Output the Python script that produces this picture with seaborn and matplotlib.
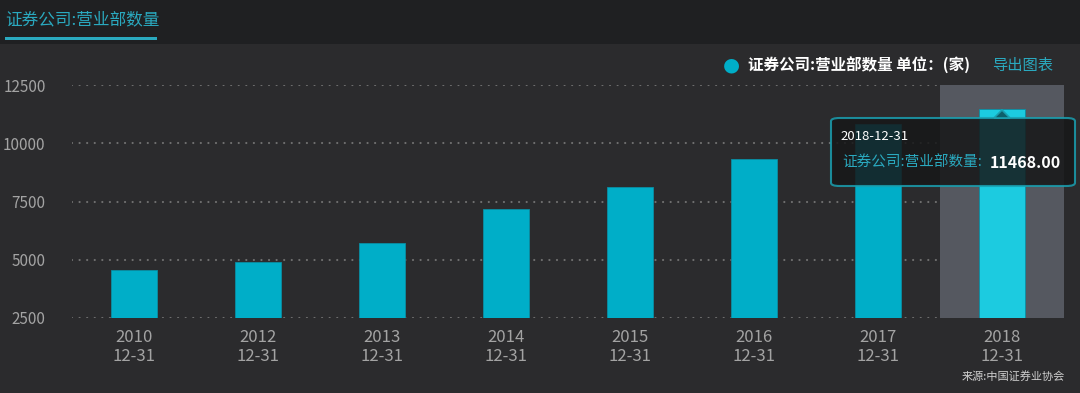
import matplotlib.pyplot as plt
import seaborn as sns
import pandas as pd
from matplotlib.patches import FancyBboxPatch, Rectangle, Polygon

years = ["2010", "2012", "2013", "2014", "2015", "2016", "2017", "2018"]
dates = ["12-31"] * 8
branches = [4560, 4900, 5720, 7160, 8140, 9340, 10820, 11468]
y_ticks = [2500, 5000, 7500, 10000, 12500]

BG = "#2b2b2d"
HEAD = "#1f2022"
BAR = "#00aec8"
BAR_HI = "#1ccbe0"
TEAL = "#2aa9bf"
GREY = "#a3a3a3"

sns.set_style("dark")
plt.rcParams["font.family"] = ["Noto Sans CJK SC", "DejaVu Sans"]

df = pd.DataFrame({"label": [f"{y}\n{d}" for y, d in zip(years, dates)],
                   "value": branches})

fig = plt.figure(figsize=(10.8, 3.93), dpi=100, facecolor=BG)
# header band
fig.patches.append(Rectangle((0, 1 - 44 / 393), 1, 44 / 393, transform=fig.transFigure,
                             facecolor=HEAD, edgecolor="none", zorder=0))
fig.text(5 / 1080, 1 - 20 / 393, "证券公司:营业部数量", color=TEAL, fontsize=12,
         va="center", ha="left")
fig.patches.append(Rectangle((5 / 1080, 1 - 40 / 393), 152 / 1080, 3 / 393,
                             transform=fig.transFigure, facecolor=TEAL,
                             edgecolor="none"))

ax = fig.add_axes([72 / 1080, 1 - 318 / 393, 992 / 1080, 233 / 393])
ax.set_facecolor(BG)

colors = [BAR] * (len(years) - 1) + [BAR_HI]
sns.barplot(data=df, x="label", y="value", hue="label", palette=colors,
            legend=False, width=0.37, saturation=1, edgecolor="#0a8ea3",
            linewidth=0.6, ax=ax, zorder=3)

# hover highlight on last category
ax.axvspan(len(years) - 1.5, len(years) - 0.5, color="#555860", zorder=2, lw=0)

ax.set_ylim(2500, 12500)
ax.set_xlim(-0.5, len(years) - 0.5)
ax.set_yticks(y_ticks)
ax.set_yticklabels([str(t) for t in y_ticks])
ax.set_xlabel("")
ax.set_ylabel("")
ax.grid(False)
for t in y_ticks:
    ax.axhline(t, color="#707070", lw=1.6, ls=(0, (0.01, 3.4)),
               dash_capstyle="round", zorder=1)
for s in ax.spines.values():
    s.set_visible(False)
ax.tick_params(axis="y", colors=GREY, labelsize=11, length=0, pad=19)
ax.tick_params(axis="x", colors=GREY, labelsize=12, length=0, pad=8)
for lbl in ax.get_yticklabels() + ax.get_xticklabels():
    lbl.set_color(GREY)
    lbl.set_linespacing(1.15)

# legend row
fig.text(731 / 1080, 1 - 65 / 393, "●", color=BAR, fontsize=14, ha="center",
         va="center", family=["DejaVu Sans"])
fig.text(748 / 1080, 1 - 65 / 393, "证券公司:营业部数量 单位：(家)", color="white",
         fontsize=11.2, fontweight="bold", ha="left", va="center")
fig.text(992 / 1080, 1 - 65 / 393, "导出图表", color=TEAL, fontsize=11,
         ha="left", va="center")

# tooltip
x0, y0, w, h = 831 / 1080, 1 - 186 / 393, 244 / 1080, 68 / 393
fig.patches.append(FancyBboxPatch((x0, y0), w, h, transform=fig.transFigure,
                                  boxstyle="round,pad=0,rounding_size=0.008",
                                  facecolor="#161718", alpha=0.85,
                                  edgecolor="#1a9fb0", lw=1.5, zorder=5))
fig.patches.append(Polygon([(994 / 1080, 1 - 118 / 393), (1002 / 1080, 1 - 110 / 393),
                            (1010 / 1080, 1 - 118 / 393)], closed=True,
                           transform=fig.transFigure, facecolor="#0e5f6b",
                           edgecolor="#1a9fb0", lw=1.2, zorder=5))
fig.text(840 / 1080, 1 - 137 / 393, f"{years[-1]}-{dates[-1]}", color="white",
         fontsize=9.5, ha="left", va="center", zorder=6)
fig.text(842 / 1080, 1 - 163 / 393, "证券公司:营业部数量:", color=TEAL,
         fontsize=10.5, ha="left", va="center", zorder=6)
fig.text(990 / 1080, 1 - 163 / 393, f"{branches[-1]:.2f}", color="white",
         fontsize=11.5, fontweight="bold", ha="left", va="center", zorder=6)

fig.text(1065 / 1080, 1 - 376 / 393, "来源:中国证券业协会", color="#d0d0d0",
         fontsize=8, ha="right", va="center")

fig.savefig("out.png", dpi=100, facecolor=BG)
